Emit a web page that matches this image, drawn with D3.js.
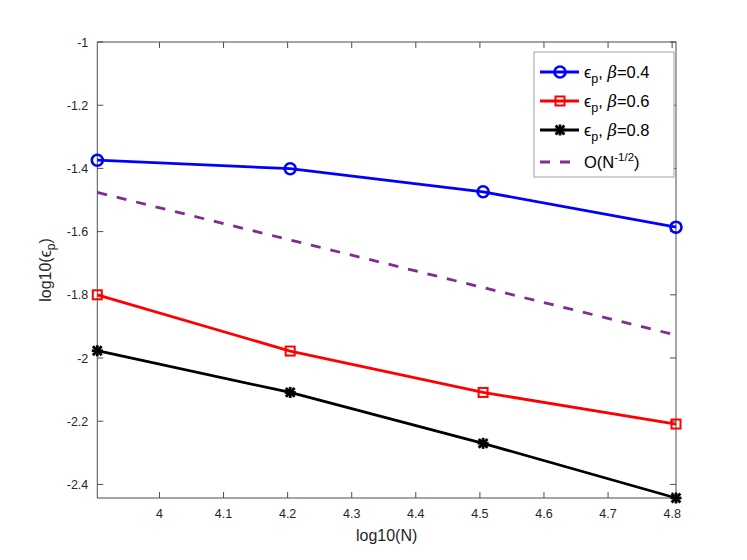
<!DOCTYPE html>
<html>
<head>
<meta charset="utf-8">
<script src="https://cdn.jsdelivr.net/npm/d3@7"></script>
<style>
  body { margin: 0; background: #fff; }
  text { font-family: "Liberation Sans", Arial, sans-serif; }
</style>
</head>
<body>
<div class="chart"></div>
<script>
var width = 747;
var height = 560;

// data
var logN = [3.903, 4.204, 4.505, 4.806];
var beta04 = [-1.374, -1.401, -1.474, -1.586];
var beta06 = [-1.800, -1.978, -2.109, -2.209];
var beta08 = [-1.977, -2.109, -2.270, -2.443];
var refStart = -1.476;   // O(N^-1/2) line at the first N
var refSlope = -0.5;

var xTicks = [4, 4.1, 4.2, 4.3, 4.4, 4.5, 4.6, 4.7, 4.8];
var yTicks = [-2.4, -2.2, -2, -1.8, -1.6, -1.4, -1.2, -1];
var xDomain = [3.903, 4.806];
var yDomain = [-2.443, -1];

var pLeft = 97.3, pRight = 676, pTop = 42, pBottom = 498;

var svg = d3.select("div.chart").append("svg")
    .attr("width", width)
    .attr("height", height);

var x = d3.scaleLinear().domain(xDomain).range([pLeft, pRight]);
var y = d3.scaleLinear().domain(yDomain).range([pBottom, pTop]);

var axisColor = "#4d4d4d";

// ticks, inward on all four sides
var g = svg.append("g");
g.selectAll(null).data(xTicks).enter().append("line")
    .attr("x1", d => x(d)).attr("x2", d => x(d))
    .attr("y1", pBottom).attr("y2", pBottom - 6)
    .attr("stroke", axisColor);
g.selectAll(null).data(xTicks).enter().append("line")
    .attr("x1", d => x(d)).attr("x2", d => x(d))
    .attr("y1", pTop).attr("y2", pTop + 6)
    .attr("stroke", axisColor);
g.selectAll(null).data(yTicks).enter().append("line")
    .attr("x1", pLeft).attr("x2", pLeft + 6)
    .attr("y1", d => y(d)).attr("y2", d => y(d))
    .attr("stroke", axisColor);
g.selectAll(null).data(yTicks).enter().append("line")
    .attr("x1", pRight).attr("x2", pRight - 6)
    .attr("y1", d => y(d)).attr("y2", d => y(d))
    .attr("stroke", axisColor);

g.selectAll(null).data(xTicks).enter().append("text")
    .attr("x", d => x(d)).attr("y", pBottom + 20)
    .attr("text-anchor", "middle")
    .attr("font-size", 12.5).attr("fill", "#262626")
    .text(d => String(d));
g.selectAll(null).data(yTicks).enter().append("text")
    .attr("x", pLeft - 9).attr("y", d => y(d) + 4.5)
    .attr("text-anchor", "end")
    .attr("font-size", 12.5).attr("fill", "#262626")
    .text(d => String(d));

// box
svg.append("rect")
    .attr("x", pLeft).attr("y", pTop)
    .attr("width", pRight - pLeft).attr("height", pBottom - pTop)
    .attr("fill", "none").attr("stroke", axisColor).attr("stroke-width", 1);

// axis labels
svg.append("text")
    .attr("x", (pLeft + pRight) / 2).attr("y", 541)
    .attr("text-anchor", "middle").attr("font-size", 16).attr("fill", "#262626")
    .text("log10(N)");

var yl = svg.append("text")
    .attr("transform", "translate(51," + ((pTop + pBottom) / 2) + ") rotate(-90)")
    .attr("text-anchor", "middle").attr("font-size", 16).attr("fill", "#262626");
yl.append("tspan").text("log10(");
yl.append("tspan").text("ϵ");
yl.append("tspan").attr("font-size", 12).attr("dy", 4).text("p");
yl.append("tspan").attr("dy", -4).text(")");

// reference line
var refX = [xDomain[0], xDomain[1]];
var refY = refX.map(v => refStart + refSlope * (v - xDomain[0]));
var line = d3.line().x(d => x(d[0])).y(d => y(d[1]));

var plot = svg.append("g");
plot.append("path")
    .attr("d", line(d3.zip(refX, refY)))
    .attr("fill", "none").attr("stroke", "#7e2f8e")
    .attr("stroke-width", 2.8).attr("stroke-dasharray", "10,10");

var series = [
  { values: beta04, color: "#0000ff", marker: "circle", label: "0.4" },
  { values: beta06, color: "#ff0000", marker: "square", label: "0.6" },
  { values: beta08, color: "#000000", marker: "star", label: "0.8" }
];

function drawMarker(sel, type, color) {
  if (type === "circle") {
    sel.append("circle").attr("r", 5.5)
      .attr("fill", "none").attr("stroke", color).attr("stroke-width", 2.6);
  } else if (type === "square") {
    sel.append("rect").attr("x", -4.5).attr("y", -4.5)
      .attr("width", 9).attr("height", 9)
      .attr("fill", "none").attr("stroke", color).attr("stroke-width", 2);
  } else {
    var s = 5.5;
    var segs = [[-s, 0, s, 0], [0, -s, 0, s], [-s * 0.8, -s * 0.8, s * 0.8, s * 0.8], [-s * 0.8, s * 0.8, s * 0.8, -s * 0.8]];
    segs.forEach(function(a) {
      sel.append("line").attr("x1", a[0]).attr("y1", a[1]).attr("x2", a[2]).attr("y2", a[3])
        .attr("stroke", color).attr("stroke-width", 2.8);
    });
  }
}

series.forEach(function(s) {
  plot.append("path")
      .attr("d", line(d3.zip(logN, s.values)))
      .attr("fill", "none").attr("stroke", s.color).attr("stroke-width", 2.8);
  plot.selectAll(null).data(d3.zip(logN, s.values)).enter().append("g")
      .attr("transform", d => "translate(" + x(d[0]) + "," + y(d[1]) + ")")
      .each(function() { drawMarker(d3.select(this), s.marker, s.color); });
});

// legend
var lg = svg.append("g");
lg.append("rect")
    .attr("x", 534).attr("y", 52).attr("width", 140).attr("height", 125)
    .attr("fill", "#fff").attr("stroke", "#a0a0a0").attr("stroke-width", 1);

var rowY = [72, 101, 130, 162];
series.forEach(function(s, i) {
  var r = lg.append("g").attr("transform", "translate(0," + rowY[i] + ")");
  r.append("line").attr("x1", 540).attr("x2", 579).attr("y1", 0).attr("y2", 0)
    .attr("stroke", s.color).attr("stroke-width", 2.8);
  drawMarker(r.append("g").attr("transform", "translate(560,0)"), s.marker, s.color);
  var t = r.append("text").attr("x", 584).attr("y", 6).attr("font-size", 16.5).attr("fill", "#000");
  t.append("tspan").text("ϵ");
  t.append("tspan").attr("font-size", 12.5).attr("dy", 5).text("p");
  t.append("tspan").attr("dy", -5).text(", ");
  t.append("tspan").attr("font-style", "italic").attr("font-family", "DejaVu Serif").text("β");
  t.append("tspan").text("=" + s.label);
});
var r4 = lg.append("g").attr("transform", "translate(0," + rowY[3] + ")");
r4.append("line").attr("x1", 540).attr("x2", 579).attr("y1", 0).attr("y2", 0)
  .attr("stroke", "#7e2f8e").attr("stroke-width", 2.8).attr("stroke-dasharray", "10,10");
var t4 = r4.append("text").attr("x", 584).attr("y", 6).attr("font-size", 16.5).attr("fill", "#000");
t4.append("tspan").text("O(N");
t4.append("tspan").attr("font-size", 11.5).attr("dy", -7).text("-1/2");
t4.append("tspan").attr("dy", 7).text(")");
</script>
</body>
</html>
